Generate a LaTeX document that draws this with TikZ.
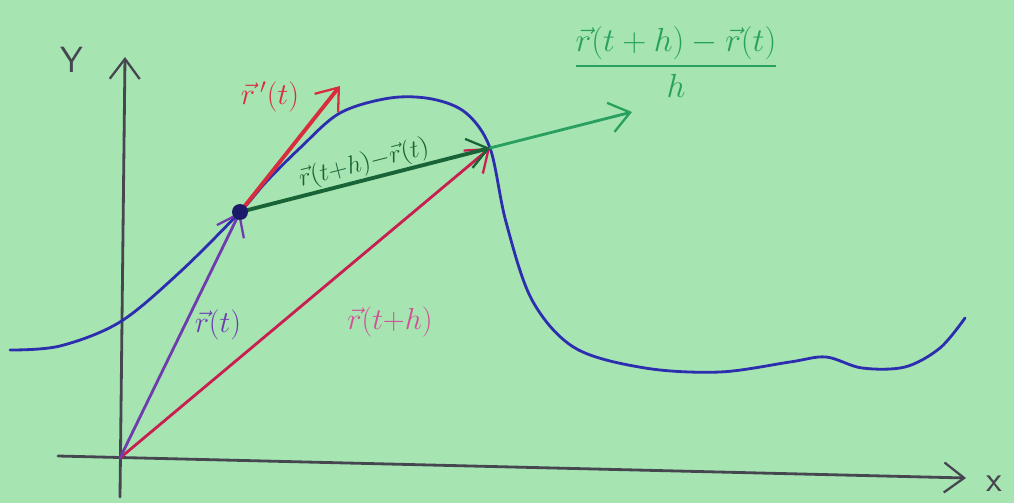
\documentclass[tikz,border=0pt]{standalone}
\usepackage{amsmath}
\usetikzlibrary{arrows.meta,positioning,backgrounds,calc}

\definecolor{paper}{RGB}{166,228,178}
\definecolor{curveblue}{RGB}{45,45,175}
\definecolor{vecpurple}{RGB}{110,60,175}
\definecolor{veccrimson}{RGB}{200,30,80}
\definecolor{vecred}{RGB}{215,45,60}
\definecolor{darkgreen}{RGB}{25,100,55}
\definecolor{lightgreen}{RGB}{40,160,95}
\definecolor{labelpink}{RGB}{210,80,150}
\definecolor{axisgray}{RGB}{70,70,80}

\tikzset{
    barb/.style={-{Straight Barb[length=4mm,width=6mm,line width=1.3pt]}},
    pen/.style={line width=1.6pt, line cap=round},
    hand/.style={font=\sffamily\Large}
}

\begin{document}
\begin{tikzpicture}[x=0.02cm, y=-0.02cm]
                    \fill[paper] (0,0) rectangle (1014,503);
                    \useasboundingbox (0,0) rectangle (1014,503);

                    \coordinate (O) at (120,458);
                    \coordinate (P) at (240,212);
                    \coordinate (Q) at (490,148);
                    \coordinate (Ytop) at (125,57);
                    \coordinate (Ybot) at (120,497);
                    \coordinate (Xleft) at (58,456);
                    \coordinate (Xright) at (966,478);
                    \coordinate (Dtip) at (632,112);
                    \coordinate (Ttip) at (340,86);

                    % axes
                    \draw[pen, axisgray, barb] (Ybot) -- (Ytop);
                    \draw[pen, axisgray, barb] (Xleft) -- (Xright);
                    \node[hand, axisgray, font=\sffamily\huge] (ylab) at (72,60) {Y};
                    \node[hand, axisgray, font=\sffamily\huge] (xlab) at (994,484) {x};

                    % the curve
                    \draw[pen, curveblue] plot[smooth, tension=0.55] coordinates {
                        (10,350) (60,346) (120,322) (180,272) (240,212)
                        (266,182) (300,148) (340,113) (390,98) (432,99)
                        (466,113) (490,148)
                        (506,222) (532,300) (575,348) (645,368) (720,372)
                        (790,362) (826,357) (862,368) (905,367) (940,348) (965,318)};

                    % position vectors
                    \draw[pen, veccrimson, barb] (O) -- (Q);
                    \draw[pen, vecpurple, barb] (O) -- (P);

                    % secant and tangent
                    \draw[pen, lightgreen, barb] (Q) -- (Dtip);
                    \draw[pen, darkgreen, line width=2.2pt, barb] (P) -- (Q);
                    \draw[pen, vecred, line width=2.2pt, barb] (P) -- (Ttip);
                    \fill[curveblue!60!black] (P) circle (8);

                    % labels
                    \node[hand, vecred, font=\sffamily\LARGE] (tanlab) at (270,97) {$\vec r\,'(t)$};
                    \node[hand, darkgreen, rotate=14.4, inner sep=1pt] (seclab) at (364,164) {$\vec r(t{+}h){-}\vec r(t)$};
                    \node[hand, vecpurple, font=\sffamily\LARGE] (rlab) at (218,325) {$\vec r(t)$};
                    \node[hand, labelpink, font=\sffamily\LARGE] (rhlab) at (390,322) {$\vec r(t{+}h)$};
                    \node[hand, lightgreen, font=\sffamily\LARGE, scale=1.1] (quot) at (676,62)
                        {$\dfrac{\vec r(t+h)-\vec r(t)}{h}$};
                \end{tikzpicture}
\end{document}
